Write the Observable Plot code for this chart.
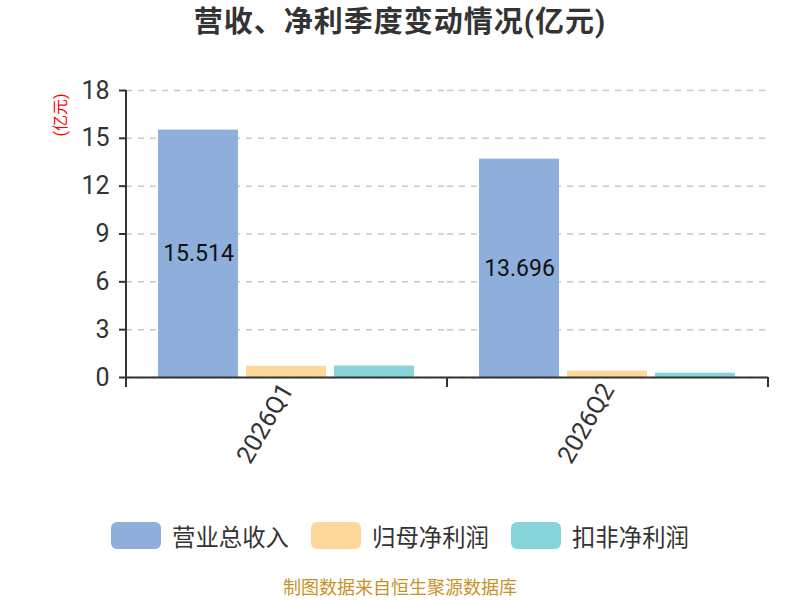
<!DOCTYPE html>
<html><head><meta charset="utf-8">
<script src="https://cdn.jsdelivr.net/npm/d3@7"></script>
<script src="https://cdn.jsdelivr.net/npm/@observablehq/plot@0.6"></script>
<style>
body{margin:0;width:800px;height:600px;background:#fff;font-family:Roboto,"Noto Sans CJK SC",sans-serif;color:#333;overflow:hidden}
#title{height:50px;line-height:44px;text-align:center;font-size:29px;letter-spacing:1px;font-weight:bold;color:#333}
#chart{height:440px}
#legend{display:flex;justify-content:center;margin-top:32px;height:27px;align-items:center;font-size:23.4px;color:#333}
.item{display:flex;align-items:center;margin:0 11px}
.sw{width:50px;height:27px;border-radius:6px;margin-right:11px}
#footer{text-align:center;font-size:18px;color:#c8922a;margin-top:29px;line-height:20px}
</style></head><body>
<div id="title">营收、净利季度变动情况(亿元)</div>
<div id="chart"></div>
<div id="legend"></div>
<div id="footer">制图数据来自恒生聚源数据库</div>
<script>
const quarters = ["2026Q1", "2026Q2"];
const series = ["营业总收入", "归母净利润", "扣非净利润"];
const revenue = [15.514, 13.696];
const netProfit = [0.70, 0.40];
const deductedProfit = [0.72, 0.27];
const colors = ["#8eaedb", "#fdd89a", "#87d5d9"];
const yTicks = [0, 3, 6, 9, 12, 15, 18];
const unitLabel = "(亿元)";

const seriesValues = [revenue, netProfit, deductedProfit];
const data = quarters.flatMap((q, i) =>
  series.map((s, j) => ({quarter: q, series: s, value: seriesValues[j][i]})));

const plot = Plot.plot({
  width: 800,
  height: 440,
  marginLeft: 125,
  marginRight: 32,
  marginTop: 40,
  marginBottom: 113,
  style: {fontFamily: 'Roboto, "Noto Sans CJK SC", sans-serif', color: "#333", background: "#fff"},
  fx: {domain: quarters, padding: 0, label: null},
  x: {domain: series, paddingInner: 0.09, paddingOuter: 0.36, axis: null},
  y: {domain: [0, 18], label: null},
  color: {domain: series, range: colors},
  marks: [
    Plot.gridY(yTicks, {stroke: "#c8c8c8", strokeOpacity: 1, strokeWidth: 1.5, strokeDasharray: "6,6"}),
    Plot.barY(data, {fx: "quarter", x: "series", y: "value", fill: "series"}),
    Plot.text(data.filter(d => d.series === series[0]), {
      fx: "quarter", x: "series", y: d => d.value / 2,
      text: d => d.value.toFixed(3), fontSize: 23, fill: "#111"
    }),
    Plot.ruleY([0], {stroke: "#333", strokeWidth: 2}),
    Plot.axisY(yTicks, {tickSize: 7, tickPadding: 10, fontSize: 25, strokeWidth: 2, label: null}),
    Plot.axisFx({anchor: "bottom", tickSize: 0, tickRotate: -60, tickPadding: 8, fontSize: 25, label: null})
  ]
});

const svg = d3.select(plot);
const fx = plot.scale("fx"), y = plot.scale("y");
const y0 = y.apply(0), yTop = y.apply(18);
const xStart = fx.apply(quarters[0]);
svg.append("line")
  .attr("x1", xStart).attr("x2", xStart).attr("y1", yTop).attr("y2", y0 + 10)
  .attr("stroke", "#333").attr("stroke-width", 2);
quarters.forEach(q => {
  const xe = fx.apply(q) + fx.bandwidth;
  svg.append("line")
    .attr("x1", xe).attr("x2", xe).attr("y1", y0).attr("y2", y0 + 10)
    .attr("stroke", "#333").attr("stroke-width", 2);
});
svg.append("text")
  .attr("transform", `translate(62,${yTop + 25}) rotate(-90)`)
  .attr("text-anchor", "middle").attr("dominant-baseline", "middle")
  .attr("fill", "red").attr("font-size", 16)
  .text(unitLabel);

document.getElementById("chart").appendChild(plot);

const legend = document.getElementById("legend");
series.forEach((s, i) => {
  const item = document.createElement("div");
  item.className = "item";
  const sw = document.createElement("div");
  sw.className = "sw";
  sw.style.background = colors[i];
  const label = document.createElement("span");
  label.textContent = s;
  item.appendChild(sw);
  item.appendChild(label);
  legend.appendChild(item);
});
</script>
</body></html>
